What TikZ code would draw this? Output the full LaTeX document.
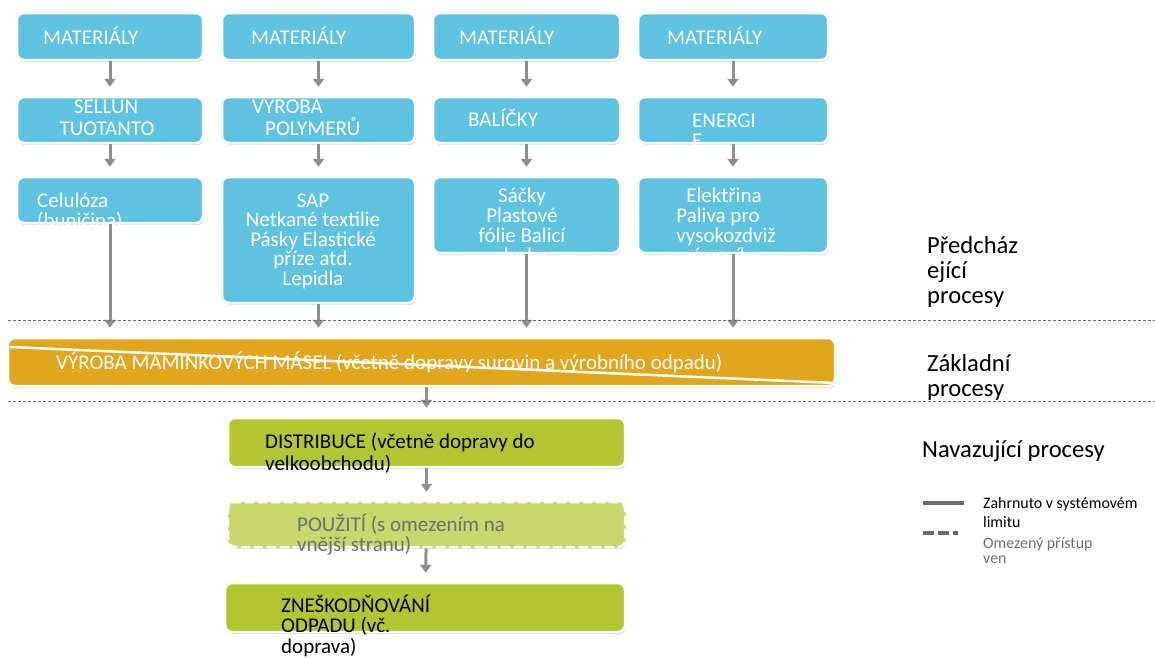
\documentclass[tikz,border=0pt]{standalone}
\usepackage{fontspec}
\setmainfont{Carlito}
\usetikzlibrary{arrows.meta,shadows}
\definecolor{blu}{HTML}{5EC3E1}
\definecolor{orng}{HTML}{E1A51E}
\definecolor{grn}{HTML}{B3C631}
\definecolor{lgrn}{HTML}{C8D86C}
\definecolor{arrc}{HTML}{8E8E8E}
\definecolor{dashc}{HTML}{6A6A6A}
\definecolor{gtxt}{HTML}{6E6E6E}
\begin{document}
\begin{tikzpicture}[x=1pt,y=-1pt,
  shad/.style={drop shadow={shadow xshift=1pt,shadow yshift=-2pt,opacity=0.3}},
  bbox/.style={draw=white,line width=2.5pt,rounded corners=7pt,fill=blu,shad,inner sep=0pt},
  obox/.style={bbox,fill=orng},
  gbox/.style={bbox,fill=grn},
  lgbox/.style={bbox,fill=lgrn,dashed,dash pattern=on 9pt off 4pt},
  wt/.style={text=white,inner sep=0pt,font=\fontsize{21}{21}\selectfont},
  bt/.style={text=black,inner sep=0pt,font=\fontsize{21}{21}\selectfont},
  side/.style={text=black,inner sep=0pt,align=left,font=\fontsize{24.6}{25}\selectfont},
  leg/.style={inner sep=0pt,font=\fontsize{15.9}{18}\selectfont},
  arr/.style={draw=arrc,line width=3pt,-{Triangle[width=11pt,length=8pt]},shorten >=9pt},
  sep/.style={draw=dashc,line width=1pt,dash pattern=on 3pt off 2pt}]
\useasboundingbox (0,0) rectangle (1155,657);

% row 1
\node[bbox,minimum width=186pt,minimum height=47pt] (m1) at (110,36.5) {};
\node[bbox,minimum width=193pt,minimum height=47pt] (m2) at (318.5,36.5) {};
\node[bbox,minimum width=187pt,minimum height=47pt] (m3) at (526.5,36.5) {};
\node[bbox,minimum width=190pt,minimum height=47pt] (m4) at (733,36.5) {};
\node[wt,anchor=base west] (tm1) at (43,44) {MATERIÁLY};
\node[wt,anchor=base west] (tm2) at (251,44) {MATERIÁLY};
\node[wt,anchor=base west] (tm3) at (459,44) {MATERIÁLY};
\node[wt,anchor=base west] (tm4) at (667,44) {MATERIÁLY};

% row 2
\node[bbox,minimum width=186pt,minimum height=46pt] (p1) at (110,120) {};
\node[bbox,minimum width=193pt,minimum height=46pt] (p2) at (318.5,120) {};
\node[bbox,minimum width=187pt,minimum height=46pt] (p3) at (526.5,120) {};
\node[bbox,minimum width=190pt,minimum height=46pt] (p4) at (733,120) {};
\node[wt,anchor=base] (tp1a) at (106,113) {SELLUN};
\node[wt,anchor=base] (tp1b) at (107,135) {TUOTANTO};
\node[wt,anchor=base west] (tp2a) at (252,113) {VÝROBA};
\node[wt,anchor=base west] (tp2b) at (265,135) {POLYMERŮ};
\node[wt,anchor=base west] (tp3) at (468,126) {BALÍČKY};
\node[wt,anchor=base west] (tp4a) at (692,127) {ENERGI};
\node[wt,anchor=base west] (tp4b) at (692,147) {E};

% row 3
\node[bbox,minimum width=186pt,minimum height=46pt] (c1) at (110,200) {};
\node[bbox,minimum width=193pt,minimum height=126pt] (c2) at (318.5,240) {};
\node[bbox,minimum width=187pt,minimum height=76pt] (c3) at (526.5,215) {};
\node[bbox,minimum width=190pt,minimum height=76pt] (c4) at (733,215) {};
\node[wt,anchor=base west] (tc1a) at (37,207) {Celulóza};
\node[wt,anchor=base west] (tc1b) at (37,227) {(buničina)};
\node[wt,anchor=base] (tc2a) at (313,207) {SAP};
\node[wt,anchor=base] (tc2b) at (313,226.5) {Netkané textilie};
\node[wt,anchor=base] (tc2c) at (313,246) {Pásky Elastické};
\node[wt,anchor=base] (tc2d) at (313,265.5) {příze atd.};
\node[wt,anchor=base] (tc2e) at (313,285) {Lepidla};
\node[wt,anchor=base] (tc3a) at (522,202) {Sáčky};
\node[wt,anchor=base] (tc3b) at (522,222) {Plastové};
\node[wt,anchor=base] (tc3c) at (522,242) {fólie Balicí};
\node[wt,anchor=base] (tc3d) at (522,262) {desky};
\node[wt,anchor=base] (tc4a) at (724,202) {Elektřina};
\node[wt,anchor=base] (tc4b) at (718,222) {Paliva pro};
\node[wt,anchor=base] (tc4c) at (726,242) {vysokozdviž};
\node[wt,anchor=base] (tc4d) at (720,262) {né vozíky};

% core process
\node[obox,minimum width=827pt,minimum height=48pt] (core) at (421.5,362) {};
\draw[white,line width=2.5pt] (10,347) -- (835,383);
\node[wt,anchor=base west] (tcore) at (56,369) {VÝROBA MAMINKOVÝCH MÁSEL (včetně dopravy surovin a výrobního odpadu)};

% downstream
\node[gbox,minimum width=397pt,minimum height=49pt] (dist) at (426.5,442.5) {};
\node[lgbox,minimum width=397pt,minimum height=45pt] (use) at (426.5,524.5) {};
\node[gbox,minimum width=400pt,minimum height=49pt] (disp) at (425,607.5) {};
\node[bt,anchor=base west] (td1) at (265,448.5) {DISTRIBUCE (včetně dopravy do};
\node[bt,anchor=base west] (td2) at (265,470.5) {velkoobchodu)};
\node[bt,text=gtxt,anchor=base west] (tu1) at (297,531.5) {POUŽITÍ (s omezením na};
\node[bt,text=gtxt,anchor=base west] (tu2) at (297,551.5) {vnější stranu)};
\node[bt,anchor=base west] (tz1) at (281,612) {ZNEŠKODŇOVÁNÍ};
\node[bt,anchor=base west] (tz2) at (281,632.5) {ODPADU (vč.};
\node[bt,anchor=base west] (tz3) at (281,653) {doprava)};

% connectors
\foreach \i in {1,2,3,4} {
  \draw[arr] (m\i) -- (p\i);
  \draw[arr] (p\i) -- (c\i);
  \draw[arr] (c\i) -- (c\i |- core.north);
}
\draw[arr] (core.south -| dist.north) -- (dist);
\draw[arr] (dist) -- (use);
\draw[arr] (use) -- (disp);

% separators
\draw[sep] (8,320) -- (1155,320);
\draw[sep] (8,401) -- (1155,401);

% side labels
\node[side,anchor=base west] (l1a) at (927,253.5) {Předcház};
\node[side,anchor=base west] (l1b) at (927,278.5) {ející};
\node[side,anchor=base west] (l1c) at (927,303.5) {procesy};
\node[side,anchor=base west] (l2a) at (927,371) {Základní};
\node[side,anchor=base west] (l2b) at (927,396) {procesy};
\node[side,anchor=base west] (l3) at (922,457) {Navazující procesy};

% legend
\draw[dashc,line width=4pt] (923,503) -- (964,503);
\draw[dashc,line width=4pt,dash pattern=on 11pt off 4pt on 11pt off 4pt on 5pt off 20pt] (923,533) -- (964,533);
\node[leg,anchor=base west] (lg1a) at (983,508) {Zahrnuto v systémovém};
\node[leg,anchor=base west] (lg1b) at (983,527) {limitu};
\node[leg,text=gtxt,anchor=base west] (lg2a) at (983,548) {Omezený přístup};
\node[leg,text=gtxt,anchor=base west] (lg2b) at (983,563) {ven};
\end{tikzpicture}
\end{document}
